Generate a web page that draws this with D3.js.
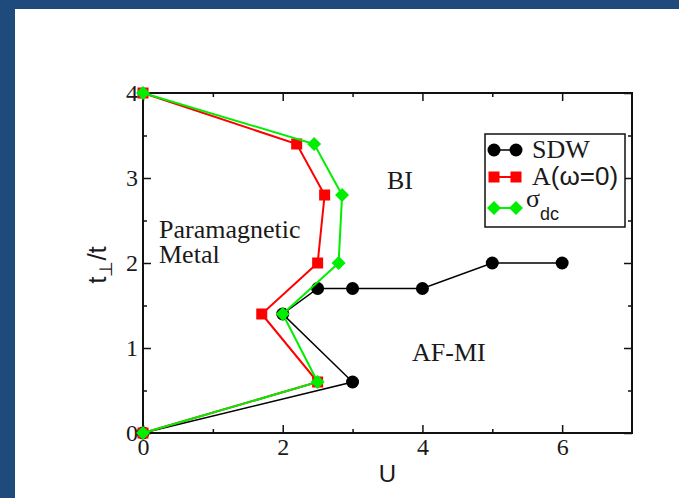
<!DOCTYPE html>
<html>
<head>
<meta charset="utf-8">
<script src="https://cdn.jsdelivr.net/npm/d3@7"></script>
<style>
  body { margin: 0; background: #fff; }
  svg { display: block; }
  .tick text { font-family: "Liberation Serif", "Times New Roman", serif; font-size: 24px; fill: #1a1a1a; }
</style>
</head>
<body>
<script>
// phase diagram points, U on x and t_perp/t on y
const sdwU = [0, 3, 2, 2.5, 3, 4, 5, 6];
const sdwT = [0, 0.6, 1.4, 1.7, 1.7, 1.7, 2, 2];
const aU = [0, 2.5, 1.7, 2.5, 2.6, 2.2, 0];
const aT = [0, 0.6, 1.4, 2, 2.8, 3.4, 4];
const sigU = [0, 2.5, 2, 2.8, 2.85, 2.45, 0];
const sigT = [0, 0.6, 1.4, 2, 2.8, 3.4, 4];
const xMajor = [0, 2, 4, 6];
const xMinor = [1, 3, 5];
const yMajor = [0, 1, 2, 3, 4];
const yMinor = [0.5, 1.5, 2.5, 3.5];

const W = 679, H = 498;
const svg = d3.select('body').append('svg').attr('width', W).attr('height', H);

// slide border
svg.append('rect').attr('width', W).attr('height', H).attr('fill', '#1f4a7c');
svg.append('rect').attr('x', 15).attr('y', 9).attr('width', W - 15).attr('height', H - 9).attr('fill', '#fff');

const x = d3.scaleLinear().domain([0, 7]).range([143, 632]);
const y = d3.scaleLinear().domain([0, 4]).range([433, 93]);

const zip = (a, b) => a.map((v, i) => [v, b[i]]);
const line = d3.line().x(d => x(d[0])).y(d => y(d[1]));
const fmt = d3.format('d');

// ticks (all pointing inwards)
function addAxis(axis, tx, ty) {
  const g = svg.append('g').attr('transform', `translate(${tx},${ty})`).call(axis);
  g.select('.domain').remove();
  g.selectAll('.tick line').attr('stroke', '#111').attr('stroke-width', 1.5);
  return g;
}
addAxis(d3.axisBottom(x).tickValues(xMajor).tickSize(-8).tickPadding(5).tickFormat(fmt), 0, y(0));
addAxis(d3.axisBottom(x).tickValues(xMinor).tickSize(-4).tickFormat(''), 0, y(0));
addAxis(d3.axisTop(x).tickValues(xMajor).tickSize(-8).tickFormat(''), 0, y(4));
addAxis(d3.axisTop(x).tickValues(xMinor).tickSize(-4).tickFormat(''), 0, y(4));
addAxis(d3.axisLeft(y).tickValues(yMajor).tickSize(-8).tickPadding(5).tickFormat(fmt), x(0), 0);
addAxis(d3.axisLeft(y).tickValues(yMinor).tickSize(-4).tickFormat(''), x(0), 0);
addAxis(d3.axisRight(y).tickValues(yMajor).tickSize(-8).tickFormat(''), x(7), 0);
addAxis(d3.axisRight(y).tickValues(yMinor).tickSize(-4).tickFormat(''), x(7), 0);

// frame
svg.append('rect')
  .attr('x', x(0)).attr('y', y(4))
  .attr('width', x(7) - x(0)).attr('height', y(0) - y(4))
  .attr('fill', 'none').attr('stroke', '#111').attr('stroke-width', 2);

// axis titles
svg.append('text')
  .attr('x', x(3.5)).attr('y', 482)
  .attr('text-anchor', 'middle')
  .style('font-family', '"Liberation Sans", Arial, sans-serif').style('font-size', '24px').attr('fill', '#1a1a1a')
  .text('U');
const yl = svg.append('text')
  .attr('transform', `translate(106,${y(2) + 2}) rotate(-90)`)
  .attr('text-anchor', 'middle')
  .style('font-family', '"Liberation Sans", Arial, sans-serif').style('font-size', '26px').attr('fill', '#1a1a1a');
yl.append('tspan').text('t');
yl.append('tspan').attr('dy', 6).style('font-size', '18px').text('\u22a5');
yl.append('tspan').attr('dy', -6).text('/t');

// region labels
const serif = '"Liberation Serif", "Times New Roman", serif';
const notes = [
  {t: 'BI', x: 387, y: 189},
  {t: 'Paramagnetic', x: 159, y: 238},
  {t: 'Metal', x: 159, y: 263},
  {t: 'AF-MI', x: 412, y: 361}
];
svg.selectAll('.note').data(notes).enter().append('text')
  .attr('class', 'note')
  .attr('x', d => d.x).attr('y', d => d.y)
  .style('font-family', serif).style('font-size', '26px').attr('fill', '#1a1a1a')
  .text(d => d.t);

// marker drawers
function circle(g, cx, cy) {
  g.append('circle').attr('cx', cx).attr('cy', cy).attr('r', 6.5).attr('fill', '#000');
}
function square(g, cx, cy) {
  g.append('rect').attr('x', cx - 5.5).attr('y', cy - 5.5).attr('width', 11).attr('height', 11).attr('fill', '#ff0000');
}
function diamond(g, cx, cy) {
  g.append('path').attr('d', `M${cx},${cy - 7}L${cx + 7},${cy}L${cx},${cy + 7}L${cx - 7},${cy}Z`).attr('fill', '#00ee00');
}

const series = [
  {pts: zip(sdwU, sdwT), color: '#000', width: 1.5, mark: circle},
  {pts: zip(aU, aT), color: '#ff0000', width: 2, mark: square},
  {pts: zip(sigU, sigT), color: '#00ee00', width: 2, mark: diamond}
];
series.forEach(s => {
  const g = svg.append('g');
  g.append('path').attr('d', line(s.pts)).attr('fill', 'none')
    .attr('stroke', s.color).attr('stroke-width', s.width);
  s.pts.forEach(p => s.mark(g, x(p[0]), y(p[1])));
});

// legend
const lg = svg.append('g');
lg.append('rect').attr('x', 485).attr('y', 134).attr('width', 140).attr('height', 93)
  .attr('fill', '#fff').attr('stroke', '#111').attr('stroke-width', 1.5);
const legendRows = [
  {s: series[0], y: 150},
  {s: series[1], y: 177},
  {s: series[2], y: 208}
];
legendRows.forEach(r => {
  lg.append('line').attr('x1', 494).attr('x2', 516).attr('y1', r.y).attr('y2', r.y)
    .attr('stroke', r.s.color).attr('stroke-width', r.s.width);
  r.s.mark(lg, 494, r.y);
  r.s.mark(lg, 516, r.y);
});
lg.append('text').attr('x', 532).attr('y', 158)
  .style('font-family', serif).style('font-size', '26px').attr('fill', '#1a1a1a').text('SDW');
const at = lg.append('text').attr('x', 532).attr('y', 185)
  .style('font-size', '26px').attr('fill', '#1a1a1a');
at.append('tspan').style('font-family', serif).text('A');
at.append('tspan').style('font-family', '"Liberation Sans", Arial, sans-serif').text('(\u03c9=0)');
const st = lg.append('text').attr('x', 526).attr('y', 207)
  .style('font-size', '26px').attr('fill', '#1a1a1a');
st.append('tspan').style('font-family', serif).text('\u03c3');
st.append('tspan').attr('dy', 13).style('font-family', '"Liberation Sans", Arial, sans-serif')
  .style('font-size', '18px').text('dc');
</script>
</body>
</html>
